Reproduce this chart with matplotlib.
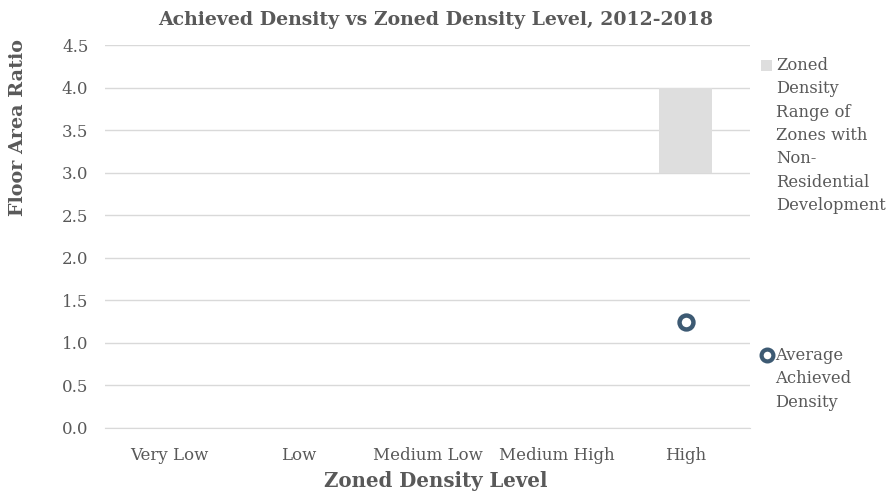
import matplotlib
matplotlib.use("Agg")
import matplotlib.pyplot as plt
import numpy as np

categories = ["Very Low", "Low", "Medium Low", "Medium High", "High"]
range_low = [0, 0, 0, 0, 3.0]
range_high = [0, 0, 0, 0, 4.0]
avg_achieved = [np.nan, np.nan, np.nan, np.nan, 1.25]
yticks = [0.0, 0.5, 1.0, 1.5, 2.0, 2.5, 3.0, 3.5, 4.0, 4.5]
legend_range = "Zoned\nDensity\nRange of\nZones with\nNon-\nResidential\nDevelopment"
legend_avg = "Average\nAchieved\nDensity"

plt.rcParams['font.family'] = ['DejaVu Serif']
txt = '#595959'
grey = '#dedede'
blue = '#3d5a73'

W, H = 890, 496
fig = plt.figure(figsize=(W/100, H/100), dpi=100)
ax = fig.add_axes([105/W, 1-428/H, (750-105)/W, (428-45)/H])

x = np.arange(len(categories))
heights = np.array(range_high) - np.array(range_low)
ax.bar(x, heights, bottom=range_low, width=0.41, color=grey, zorder=2)
ax.plot(x, avg_achieved, linestyle='none', marker='o', markersize=10,
        markerfacecolor='white', markeredgecolor=blue, markeredgewidth=3.2, zorder=3)

ax.set_xlim(-0.5, len(categories)-0.5)
ax.set_ylim(0, 4.5)
ax.set_yticks(yticks)
ax.set_yticklabels([f"{v:.1f}" for v in yticks])
ax.set_xticks(x)
ax.set_xticklabels(categories)
ax.tick_params(axis='both', length=0, labelsize=12, colors=txt)
ax.tick_params(axis='x', pad=14)
ax.tick_params(axis='y', pad=12)
ax.grid(axis='y', color='#d9d9d9', linewidth=1, zorder=0)
ax.set_axisbelow(True)
for s in ['top', 'right', 'left']:
    ax.spines[s].set_visible(False)
ax.spines['bottom'].set_color('#d9d9d9')

fig.text(436/W, 1-20/H, "Achieved Density vs Zoned Density Level, 2012-2018",
         ha='center', va='center', fontsize=13.6, fontweight='bold', color=txt)
fig.text(436/W, 1-481/H, "Zoned Density Level", ha='center', va='center',
         fontsize=14.2, fontweight='bold', color=txt)
fig.text(18/W, 1-128/H, "Floor Area Ratio", ha='center', va='center', rotation=90,
         fontsize=13.8, fontweight='bold', color=txt)

# legend (manual, Excel-style: marker beside first line)
fig.patches.append(plt.Rectangle((761/W, 1-71/H), 11/W, 11/H, transform=fig.transFigure,
                                 facecolor=grey, edgecolor='none'))
fig.text(776/W, 1-57/H, legend_range, ha='left', va='top', fontsize=11.8,
         color=txt, linespacing=1.49)
fig.lines.append(plt.Line2D([767/W], [1-355/H], transform=fig.transFigure, linestyle='none',
                            marker='o', markersize=8.5, markerfacecolor='white',
                            markeredgecolor=blue, markeredgewidth=3))
fig.text(775/W, 1-347/H, legend_avg, ha='left', va='top', fontsize=11.8,
         color=txt, linespacing=1.49)

fig.savefig("out.png", dpi=100)
